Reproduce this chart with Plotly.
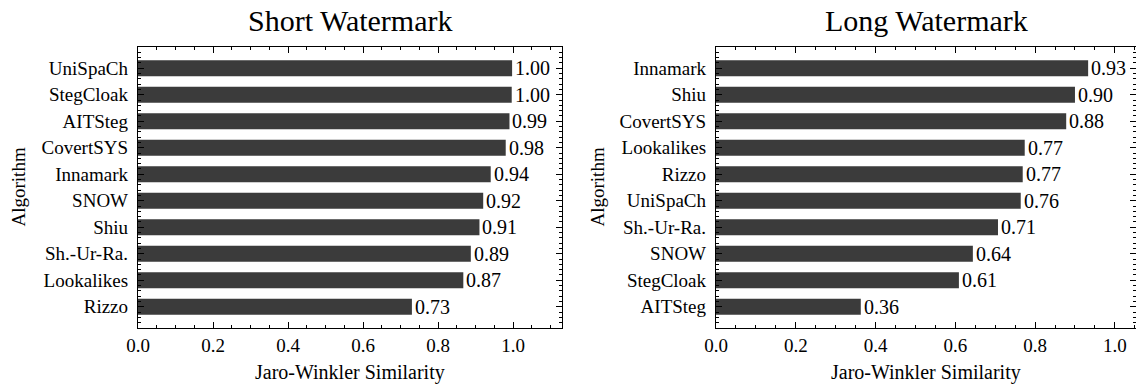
import plotly.graph_objects as go

# ---- data ----
short_algos = ["UniSpaCh", "StegCloak", "AITSteg", "CovertSYS", "Innamark",
               "SNOW", "Shiu", "Sh.-Ur-Ra.", "Lookalikes", "Rizzo"]
short_vals = [0.997, 0.996, 0.99, 0.98, 0.94, 0.92, 0.91, 0.887, 0.867, 0.73]

long_algos = ["Innamark", "Shiu", "CovertSYS", "Lookalikes", "Rizzo",
              "UniSpaCh", "Sh.-Ur-Ra.", "SNOW", "StegCloak", "AITSteg"]
long_vals = [0.933, 0.90, 0.878, 0.774, 0.769, 0.764, 0.707, 0.644, 0.609, 0.363]

x_ticks = [0.0, 0.2, 0.4, 0.6, 0.8, 1.0]
x_tick_labels = ["0.0", "0.2", "0.4", "0.6", "0.8", "1.0"]

titles = ["Short Watermark", "Long Watermark"]
x_title = "Jaro-Winkler Similarity"
y_title = "Algorithm"

# ---- styling ----
W, H = 1136, 385
FONT = "Liberation Serif, Times New Roman, serif"
BAR_COLOR = "#3b3b3b"
TICK_SIZE = 19

left_px = (138, 562)
right_px = (716, 1136)
top_px, bot_px = 47, 328

def px_x(a, b):
    return [a / W, b / W]

ydom = [1 - bot_px / H, 1 - top_px / H]

fig = go.Figure()
annotations = []

for i, (algos, vals) in enumerate([(short_algos, short_vals), (long_algos, long_vals)]):
    pos = list(range(len(algos)))
    suffix = "" if i == 0 else str(i + 1)
    fig.add_trace(go.Bar(
        x=vals, y=pos, orientation="h",
        marker=dict(color=BAR_COLOR, line=dict(width=0)),
        width=0.6,
        xaxis="x" + suffix, yaxis="y" + suffix,
        showlegend=False, hoverinfo="skip",
    ))
    for v, p in zip(vals, pos):
        annotations.append(dict(
            text=f"{v:.2f}", x=v, y=p, xref="x" + suffix, yref="y" + suffix,
            xanchor="left", yanchor="middle", xshift=1, showarrow=False,
            font=dict(family=FONT, size=20, color="black"),
        ))

common_x = dict(
    tickvals=x_ticks, ticktext=x_tick_labels,
    ticks="inside", ticklen=6, tickwidth=1, tickcolor="black",
    showline=True, linecolor="black", linewidth=1.3, mirror="allticks",
    showgrid=False, zeroline=False, automargin=False,
    tickfont=dict(family=FONT, size=TICK_SIZE, color="black"),
    minor=dict(dtick=0.05, tick0=0, ticks="inside", ticklen=3, tickwidth=1, tickcolor="black", showgrid=False),
)

def common_y(algos):
    return dict(
        tickvals=list(range(len(algos))), ticktext=algos,
        range=[len(algos) - 0.2, -0.8],
        ticks="inside", ticklen=6, tickwidth=1, tickcolor="black",
        showline=True, linecolor="black", linewidth=1.3, mirror="allticks",
        showgrid=False, zeroline=False, automargin=False,
        ticklabelstandoff=5,
        tickfont=dict(family=FONT, size=TICK_SIZE, color="black"),
        minor=dict(dtick=0.2, tick0=0, ticks="inside", ticklen=3, tickwidth=1, tickcolor="black", showgrid=False),
    )

fig.update_layout(
    width=W, height=H,
    margin=dict(l=0, r=0, t=0, b=0, autoexpand=False),
    paper_bgcolor="white", plot_bgcolor="white",
    xaxis=dict(domain=px_x(*left_px), range=[0, 1.13], anchor="y", **common_x),
    yaxis=dict(domain=ydom, anchor="x", **common_y(short_algos)),
    xaxis2=dict(domain=px_x(*right_px), range=[0, 1.053], anchor="y2", **common_x),
    yaxis2=dict(domain=ydom, anchor="x2", **common_y(long_algos)),
)

for (a, b), t, ylab_x in [(left_px, titles[0], 18), (right_px, titles[1], 597)]:
    cx = (a + b) / 2 / W
    annotations.append(dict(text=t, x=cx, y=1 - 20 / H, xref="paper", yref="paper",
                            xanchor="center", yanchor="middle", showarrow=False,
                            font=dict(family=FONT, size=30, color="black")))
    annotations.append(dict(text=x_title, x=cx, y=1 - 372 / H, xref="paper", yref="paper",
                            xanchor="center", yanchor="middle", showarrow=False,
                            font=dict(family=FONT, size=20, color="black")))
    annotations.append(dict(text=y_title, x=ylab_x / W, y=1 - ((top_px + bot_px) / 2) / H,
                            xref="paper", yref="paper", textangle=-90,
                            xanchor="center", yanchor="middle", showarrow=False,
                            font=dict(family=FONT, size=19, color="black")))
fig.update_layout(annotations=annotations)

fig.write_html("out.html")
